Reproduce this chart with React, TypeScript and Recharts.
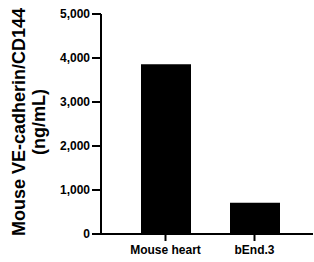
import { BarChart, Bar, XAxis, YAxis } from 'recharts'

const categories = ['Mouse heart', 'bEnd.3']
const values = [3860, 710]
const yTicks = [0, 1000, 2000, 3000, 4000, 5000]

const data = categories.map((name, i) => ({ name, value: values[i] }))

const FONT = 'Arial, "Liberation Sans", Helvetica, sans-serif'

function YLabel() {
  return (
    <g fontFamily={FONT} fontWeight="bold" fontSize={18} fill="#000">
      <text x={25} y={122} textAnchor="middle" transform="rotate(-90 25 122)">
        Mouse VE-cadherin/CD144
      </text>
      <text x={45} y={122} textAnchor="middle" transform="rotate(-90 45 122)">
        (ng/mL)
      </text>
    </g>
  )
}

export default function App() {
  return (
    <div style={{ position: 'absolute', left: 0, top: 0, background: '#fff' }}>
      <BarChart
        width={314}
        height={262}
        data={data}
        margin={{ top: 14, right: 1, bottom: 0, left: 0 }}
      >
        <XAxis
          dataKey="name"
          padding={{ left: 20, right: 14 }}
          axisLine={{ stroke: '#000', strokeWidth: 2 }}
          tickLine={{ stroke: '#000', strokeWidth: 2 }}
          tickSize={7}
          tickMargin={4}
          height={28}
          tick={{ fill: '#000', fontSize: 12, fontWeight: 'bold', fontFamily: FONT }}
        />
        <YAxis
          width={101}
          domain={[0, 5000]}
          ticks={yTicks}
          interval={0}
          tickFormatter={(v: number) => v.toLocaleString('en-US')}
          axisLine={{ stroke: '#000', strokeWidth: 2 }}
          tickLine={{ stroke: '#000', strokeWidth: 2 }}
          tickSize={9}
          tickMargin={2}
          tick={{ fill: '#000', fontSize: 12, fontWeight: 'bold', fontFamily: FONT }}
          label={{ content: () => <YLabel /> }}
        />
        <Bar dataKey="value" fill="#000" barSize={50} isAnimationActive={false} />
      </BarChart>
    </div>
  )
}
